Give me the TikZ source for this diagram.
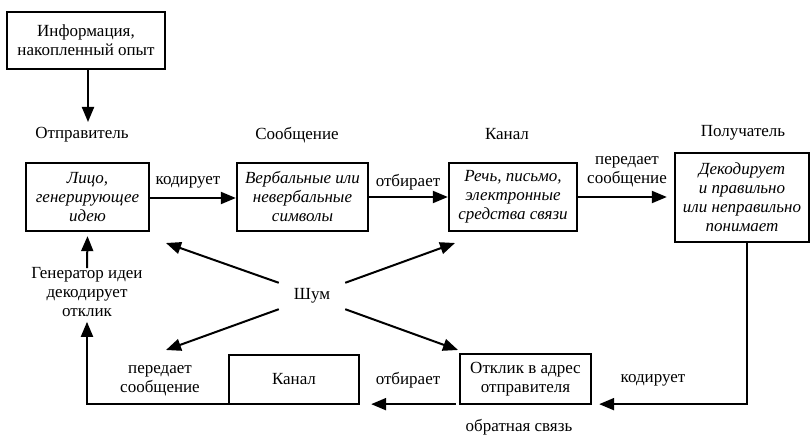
\documentclass[tikz,border=0pt]{standalone}
\usepackage{fontspec}
\setmainfont{Liberation Serif}
\usetikzlibrary{arrows.meta}
\begin{document}
\begin{tikzpicture}[x=1pt,y=-1pt,
  box/.style={draw,line width=2.3pt,inner sep=2pt,align=center,font=\fontsize{17}{19}\selectfont},
  lbl/.style={align=center,inner sep=1pt,font=\fontsize{17}{19}\selectfont},
  arr/.style={line width=2pt,-{Triangle[length=15pt,width=12pt]}},
  ln/.style={line width=2pt}]
\useasboundingbox (0,0) rectangle (811,435);
% boxes
\node[box,minimum width=158pt,minimum height=57pt] (info) at (86,40.5) {Информация,\\накопленный опыт};
\node[box,minimum width=123pt,minimum height=68pt] (send) at (87.5,197) {\itshape Лицо,\\\itshape генерирующее\\\itshape идею};
\node[box,minimum width=131pt,minimum height=68pt] (msg) at (302.5,197) {\itshape Вербальные или\\\itshape невербальные\\\itshape символы};
\node[box,minimum width=128pt,minimum height=68pt] (chan) at (513,197) {\itshape Речь, письмо,\\\itshape электронные\\\itshape средства связи};
\node[box,minimum width=134pt,minimum height=89pt] (recv) at (742,197.5) {\itshape Декодирует\\\itshape и правильно\\\itshape или неправильно\\\itshape понимает};
\node[box,minimum width=131pt,minimum height=50pt] (resp) at (525.5,379) {Отклик в адрес\\отправителя};
\node[box,minimum width=130pt,minimum height=49pt] (chan2) at (294,379.5) {Канал};
% labels
\node[lbl] (sendlbl) at (82,135) {Отправитель};
\node[lbl] (msglbl) at (297,135) {Сообщение};
\node[lbl] (chanlbl) at (507,134) {Канал};
\node[lbl] (recvlbl) at (743,133) {Получатель};
\node[lbl] (enc1) at (188,182) {кодирует};
\node[lbl] (sel1) at (408,182) {отбирает};
\node[lbl] (trans1) at (627,172) {передает\\сообщение};
\node[lbl] (gen) at (87,292) {Генератор идеи\\декодирует\\отклик};
\node[lbl] (trans2) at (160,381) {передает\\сообщение};
\node[lbl] (sel2) at (408,380) {отбирает};
\node[lbl] (enc2) at (653,380) {кодирует};
\node[lbl] (fb) at (519,427) {обратная связь};
\node[lbl,minimum width=66pt,minimum height=26pt] (noise) at (312,296) {Шум};
% noise targets
\coordinate (t1) at (166,243);
\coordinate (t2) at (166,350);
\coordinate (t3) at (455,243);
\coordinate (t4) at (458,350);
% connectors
\draw[arr] ([xshift=2pt]info.south) -- ([xshift=2pt]info.south |- 0,122);
\draw[arr] (send.east |- 0,198) -- (msg.west |- 0,198);
\draw[arr] (msg.east |- 0,197) -- (chan.west |- 0,197);
\draw[arr] (chan.east |- 0,197) -- ([xshift=-7pt]recv.west |- 0,197);
\draw[arr] ([xshift=5pt]recv.south) |- ([xshift=7pt,yshift=1pt]resp.south east);
\draw[arr] ([xshift=-3pt,yshift=1pt]resp.south west) -- ([xshift=11pt,yshift=1pt]chan2.south east);
\draw[arr] ([yshift=1pt]chan2.south west) -| ([yshift=-4pt]gen.south);
\draw[arr] ([yshift=-2pt]gen.north) -- ([yshift=-4pt]send.south);
\draw[arr] (noise.north west) -- (t1);
\draw[arr] (noise.south west) -- (t2);
\draw[arr] (noise.north east) -- (t3);
\draw[arr] (noise.south east) -- (t4);
\end{tikzpicture}
\end{document}
